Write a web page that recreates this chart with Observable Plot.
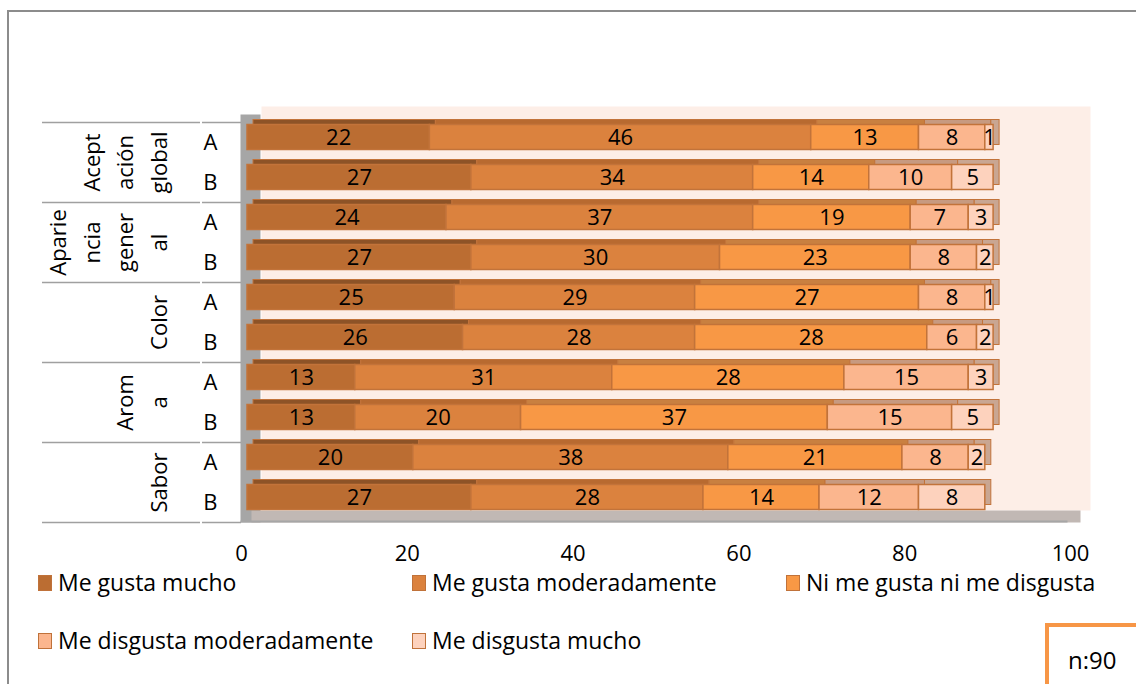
<!DOCTYPE html>
<html><head><meta charset="utf-8">
<script src="https://cdn.jsdelivr.net/npm/d3@7"></script>
<script src="https://cdn.jsdelivr.net/npm/@observablehq/plot@0.6"></script>
<style>
body{margin:0;background:#fff;font-family:"Open Sans",sans-serif;}
#wrap{position:relative;width:1136px;height:684px;overflow:hidden;background:#fff;}
#border{position:absolute;left:7px;top:10px;width:1300px;height:900px;border-left:2px solid #8c8c8c;border-top:2px solid #8c8c8c;}
#chart{position:absolute;left:0;top:0;}
.leg{position:absolute;font-size:23px;line-height:1;display:flex;align-items:center;white-space:nowrap;color:#000;}
.sw{width:12px;height:14px;border:1.5px solid #c0723a;margin-right:6px;}
#nbox{position:absolute;left:1045px;top:623px;width:120px;height:80px;border:4px solid #f79646;box-sizing:border-box;}
#nbox span{position:absolute;left:19px;top:16px;font-size:24px;}
</style></head>
<body><div id="wrap"><div id="border"></div><div id="chart"></div><div id="legend"></div><div id="nbox"><span>n:90</span></div></div>
<script>
const groups = ["Aceptación global", "Apariencia general", "Color", "Aroma", "Sabor"];
const groupLabels = ["Acept\nación\nglobal", "Aparie\nncia\ngener\nal", "Color", "Arom\na", "Sabor"];
const samples = ["A", "B"];
const categories = ["Me gusta mucho", "Me gusta moderadamente", "Ni me gusta ni me disgusta", "Me disgusta moderadamente", "Me disgusta mucho"];
// values per row: AcepA, AcepB, ApaA, ApaB, ColA, ColB, AroA, AroB, SabA, SabB
const meGustaMucho            = [22, 27, 24, 27, 25, 26, 13, 13, 20, 27];
const meGustaModeradamente    = [46, 34, 37, 30, 29, 28, 31, 20, 38, 28];
const niMeGustaNiMeDisgusta   = [13, 14, 19, 23, 27, 28, 28, 37, 21, 14];
const meDisgustaModeradamente = [ 8, 10,  7,  8,  8,  6, 15, 15,  8, 12];
const meDisgustaMucho         = [ 1,  5,  3,  2,  1,  2,  3,  5,  2,  8];
const xTicks = [0, 20, 40, 60, 80, 100];
const nLabel = "n:90";

const series = [meGustaMucho, meGustaModeradamente, niMeGustaNiMeDisgusta, meDisgustaModeradamente, meDisgustaMucho];
const fillColors = ["#bb6d32", "#db823e", "#f89845", "#fbb68e", "#fdd2bd"];
const topColors  = ["#8d5327", "#b86a30", "#c98040", "#c79a80", "#c9a692"];
const strokeColor = "#c2733a";

const keys = [];
groups.forEach(g => samples.forEach(s => keys.push(g + "|" + s)));
const data = [];
keys.forEach((k, ri) => series.forEach((vals, ci) => data.push({key: k, ci, cat: categories[ci], value: vals[ri]})));
const groupRows = groups.map((g, i) => ({key: g + "|A", label: groupLabels[i]}));
const lastRow = [{key: keys[keys.length - 1]}];

const plot = Plot.plot({
  width: 1136, height: 570,
  marginLeft: 241, marginRight: 66, marginTop: 122, marginBottom: 48,
  style: {fontFamily: "Open Sans", fontSize: "22px", background: "none", overflow: "visible", color: "#000"},
  x: {domain: [0, 100], ticks: xTicks, tickSize: 0, tickPadding: 23, label: null},
  y: {domain: keys, padding: 0, tickSize: 0, tickPadding: 24, tickFormat: k => k.split("|")[1], label: null},
  color: {type: "identity"},
  marks: [
    Plot.frame({fill: "#fdeee7", dx: 20, dy: -16, insetBottom: -4}),
    Plot.frame({fill: "#a6a6a6", insetRight: 809, insetTop: -8, dx: -1}),
    Plot.frame({fill: "#c1b8b4", insetTop: 388, dx: 10}),
    Plot.frame({fill: "#a6a6a6", insetTop: 398, insetRight: 2, dx: -1}),
    Plot.ruleY(groupRows, {y: "key", dy: -20, stroke: "#a0a0a0", strokeWidth: 1.5, insetLeft: -199, insetRight: 870}),
    Plot.ruleY(groupRows, {y: "key", dy: -20, stroke: "#a0a0a0", strokeWidth: 1.5, insetLeft: -39, insetRight: 829}),
    Plot.ruleY(lastRow, {y: "key", dy: 20, stroke: "#a0a0a0", strokeWidth: 1.5, insetLeft: -199, insetRight: 870}),
    Plot.ruleY(lastRow, {y: "key", dy: 20, stroke: "#a0a0a0", strokeWidth: 1.5, insetLeft: -39, insetRight: 829}),
    Plot.barX(data, {x: "value", y: "key", fill: d => topColors[d.ci], stroke: strokeColor, strokeWidth: 1, insetTop: 7.5, insetBottom: 7.5, dx: 12, dy: -10}),
    Plot.barX(data, {x: "value", y: "key", fill: d => fillColors[d.ci], stroke: strokeColor, strokeWidth: 1.5, insetTop: 7.5, insetBottom: 7.5, dx: 6, dy: -5}),
    Plot.text(data, Plot.stackX({x: "value", y: "key", z: "ci", text: d => String(d.value), dx: 6, dy: -5, fontSize: 22, fill: "#000"})),
    Plot.text(groupRows, {y: "key", text: "label", frameAnchor: "left", dx: -75, dy: 20, rotate: -90, lineAnchor: "bottom", textAnchor: "middle", lineHeight: 1.52, fontSize: 22, fill: "#000"})
  ]
});
document.getElementById("chart").appendChild(plot);

const legPos = [[38, 583], [412, 583], [786, 583], [38, 641], [412, 641]];
const legend = document.getElementById("legend");
categories.forEach((c, i) => {
  const d = document.createElement("div");
  d.className = "leg";
  d.style.left = legPos[i][0] + "px";
  d.style.top = (legPos[i][1] - 12) + "px";
  d.innerHTML = `<div class="sw" style="background:${fillColors[i]}"></div><span>${c}</span>`;
  legend.appendChild(d);
});
document.querySelector("#nbox span").textContent = nLabel;
</script></body></html>
